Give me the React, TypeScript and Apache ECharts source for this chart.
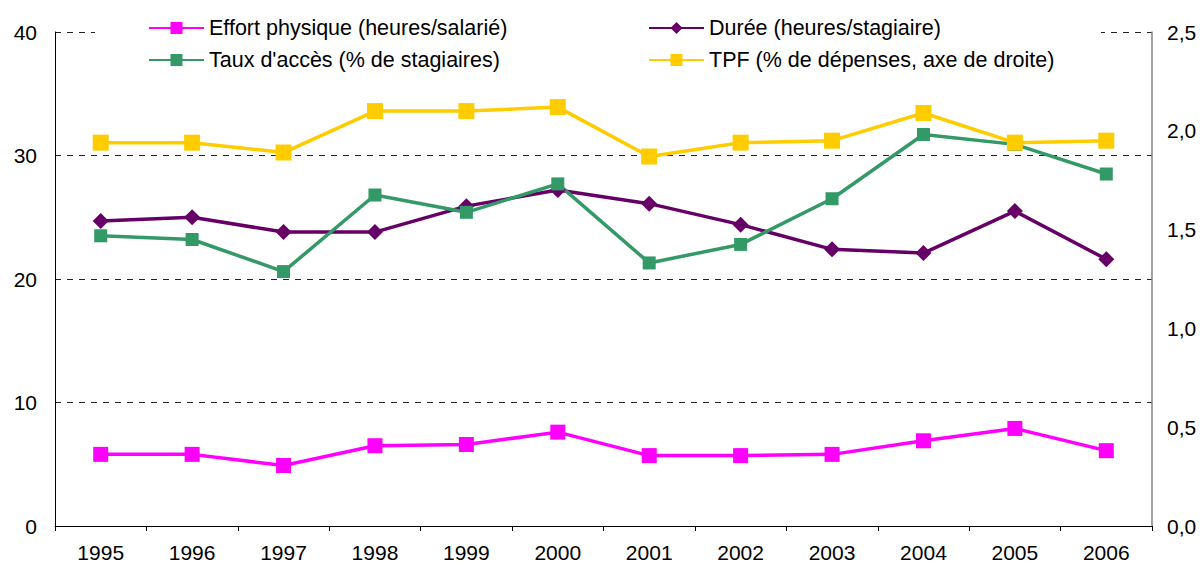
import React, { useEffect, useRef } from "react";
import * as echarts from "echarts";

const years = ["1995", "1996", "1997", "1998", "1999", "2000", "2001", "2002", "2003", "2004", "2005", "2006"];
const effortPhysique = [5.8, 5.8, 4.9, 6.5, 6.6, 7.6, 5.7, 5.7, 5.8, 6.9, 7.9, 6.1];
const duree = [24.7, 25.0, 23.8, 23.8, 25.9, 27.2, 26.1, 24.4, 22.4, 22.1, 25.5, 21.6];
const tauxAcces = [23.5, 23.2, 20.6, 26.8, 25.4, 27.7, 21.3, 22.8, 26.5, 31.7, 30.9, 28.5];
const tpf = [1.94, 1.94, 1.89, 2.1, 2.1, 2.12, 1.87, 1.94, 1.95, 2.09, 1.94, 1.95];

const names = [
  "Effort physique (heures/salarié)",
  "Durée (heures/stagiaire)",
  "Taux d'accès (% de stagiaires)",
  "TPF (% de dépenses, axe de droite)",
];

const FONT = "'Liberation Sans', Arial, sans-serif";

export default function App() {
  const ref = useRef<HTMLDivElement>(null);
  useEffect(() => {
    if (!ref.current) return;
    document.body.style.margin = "0";
    document.body.style.overflow = "hidden";
    const chart = echarts.init(ref.current, undefined, { renderer: "svg" });
    const textStyle = { fontFamily: FONT, fontSize: 21.5, color: "#000" };
    const axisText = { fontFamily: FONT, fontSize: 21, color: "#000" };
    chart.setOption({
      animation: false,
      backgroundColor: "#fff",
      textStyle: { fontFamily: FONT },
      grid: { left: 55, right: 48, top: 32, bottom: 39, containLabel: false },
      graphic: [
        {
          type: "rect",
          z: 1,
          silent: true,
          shape: { x: 95, y: 8, width: 1006, height: 70 },
          style: { fill: "#fff" },
        },
      ],
      legend: [
        {
          orient: "vertical",
          left: 143,
          top: 12,
          itemWidth: 55,
          itemHeight: 15,
          itemGap: 10,
          z: 5,
          textStyle,
          data: [names[0], names[2]],
        },
        {
          orient: "vertical",
          left: 643,
          top: 12,
          itemWidth: 55,
          itemHeight: 15,
          itemGap: 10,
          z: 5,
          textStyle,
          data: [names[1], names[3]],
        },
      ],
      xAxis: {
        type: "category",
        data: years,
        boundaryGap: true,
        axisLine: { lineStyle: { color: "#000", width: 1 } },
        axisTick: { show: true, length: 5, inside: false, lineStyle: { color: "#000" } },
        axisLabel: { ...axisText, margin: 16 },
      },
      yAxis: [
        {
          type: "value",
          min: 0,
          max: 40,
          interval: 10,
          axisLine: { show: true, lineStyle: { color: "#000", width: 1 } },
          axisTick: { show: false },
          axisLabel: { ...axisText, margin: 18 },
          splitLine: { show: true, lineStyle: { color: "#222", type: [6, 6], width: 1 } },
        },
        {
          type: "value",
          min: 0,
          max: 2.5,
          interval: 0.5,
          position: "right",
          axisLine: { show: true, lineStyle: { color: "#808080", width: 1.5 } },
          axisTick: { show: false },
          axisLabel: {
            ...axisText,
            margin: 15,
            formatter: (v: number) => v.toFixed(1).replace(".", ","),
          },
          splitLine: { show: false },
        },
      ],
      series: [
        {
          name: names[0],
          type: "line",
          data: effortPhysique,
          yAxisIndex: 0,
          symbol: "rect",
          symbolSize: 15,
          lineStyle: { color: "#FF00FF", width: 3.5 },
          itemStyle: { color: "#FF00FF" },
        },
        {
          name: names[1],
          type: "line",
          data: duree,
          yAxisIndex: 0,
          symbol: "diamond",
          symbolSize: 16,
          lineStyle: { color: "#660066", width: 3.5 },
          itemStyle: { color: "#660066" },
        },
        {
          name: names[2],
          type: "line",
          data: tauxAcces,
          yAxisIndex: 0,
          symbol: "rect",
          symbolSize: 13,
          lineStyle: { color: "#339966", width: 3.5 },
          itemStyle: { color: "#339966" },
        },
        {
          name: names[3],
          type: "line",
          data: tpf,
          yAxisIndex: 1,
          symbol: "rect",
          symbolSize: 16,
          lineStyle: { color: "#FFCC00", width: 3.5 },
          itemStyle: { color: "#FFCC00" },
        },
      ],
    });
    return () => chart.dispose();
  }, []);
  return (
    <div
      ref={ref}
      style={{ position: "absolute", left: 0, top: 0, width: 1200, height: 565 }}
    />
  );
}
